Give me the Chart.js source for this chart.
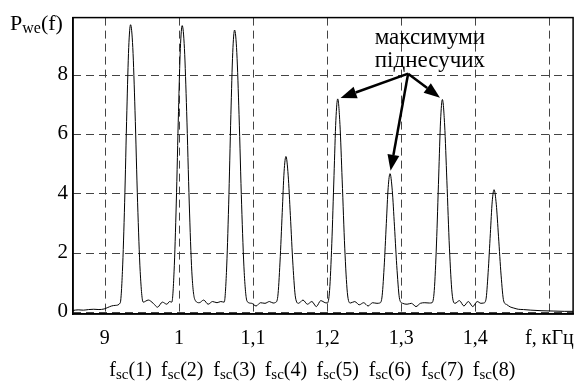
<!DOCTYPE html>
<html>
<head>
<meta charset="utf-8">
<script src="https://cdn.jsdelivr.net/npm/chart.js@4.4.1/dist/chart.umd.min.js"></script>
<style>
  html, body { margin: 0; padding: 0; background: #fff; }
</style>
</head>
<body>
<canvas id="spectrum" width="587" height="381"></canvas>
<script>
// spectrum, f in kHz
const freq = [
  0.857, 0.864, 0.871, 0.878, 0.885, 0.892, 0.899, 0.904, 0.909, 0.914, 0.9207,
  0.9237, 0.9267, 0.9297, 0.9322, 0.9347, 0.9377, 0.9407, 0.9442, 0.9477, 0.9517,
  0.9587, 0.9653, 0.9711, 0.9777, 0.9836, 0.9874, 0.9904,
  0.9934, 0.9964, 0.9994, 1.0019, 1.0044, 1.0074, 1.0104, 1.0139, 1.0174, 1.0214,
  1.0274, 1.0334, 1.0394, 1.0454, 1.0514, 1.0564, 1.0611,
  1.0641, 1.0671, 1.0701, 1.0726, 1.0751, 1.0781, 1.0811, 1.0846, 1.0881, 1.0921,
  1.0981, 1.1041, 1.1101, 1.1161, 1.1221, 1.1271, 1.1304,
  1.1334, 1.1364, 1.1394, 1.1419, 1.1444, 1.1474, 1.1504, 1.1539, 1.1574, 1.1614,
  1.1674, 1.1734, 1.1794, 1.1854, 1.1914, 1.1974, 1.2003,
  1.2033, 1.2063, 1.2093, 1.2118, 1.2143, 1.2173, 1.2203, 1.2238, 1.2273, 1.2313,
  1.2373, 1.2433, 1.2493, 1.2553, 1.2613, 1.2673, 1.2709,
  1.2739, 1.2769, 1.2799, 1.2824, 1.2849, 1.2879, 1.2909, 1.2944, 1.2979, 1.3019,
  1.3079, 1.3139, 1.3199, 1.3259, 1.3319, 1.3379, 1.3416,
  1.3446, 1.3476, 1.3506, 1.3531, 1.3556, 1.3586, 1.3616, 1.3651, 1.3686, 1.3726,
  1.3786, 1.3846, 1.3906, 1.3966, 1.4026, 1.4076, 1.4113,
  1.4143, 1.4173, 1.4203, 1.4228, 1.4253, 1.4283, 1.4313, 1.4348, 1.4383,
  1.4423, 1.447, 1.452, 1.458, 1.465, 1.475, 1.49, 1.505, 1.52, 1.532
]
const power = [
  0.05, 0.07, 0.06, 0.08, 0.09, 0.08, 0.10, 0.15, 0.20, 0.22, 0.30,
  1.36, 3.68, 6.78, 8.91, 9.68, 8.91, 6.78, 3.68, 1.36, 0.33,
  0.40, 0.29, 0.16, 0.33, 0.26, 0.35, 0.33,
  1.35, 3.67, 6.76, 8.88, 9.65, 8.88, 6.76, 3.67, 1.35, 0.42,
  0.31, 0.40, 0.26, 0.35, 0.31, 0.35, 0.33,
  1.33, 3.61, 6.65, 8.74, 9.50, 8.74, 6.65, 3.61, 1.33, 0.35,
  0.29, 0.20, 0.31, 0.29, 0.35, 0.30, 0.32,
  0.52, 1.68, 3.35, 4.72, 5.24, 4.61, 3.25, 1.57, 0.47, 0.29,
  0.40, 0.26, 0.35, 0.18, 0.38, 0.31, 0.30,
  0.72, 2.30, 4.60, 6.46, 7.18, 6.32, 4.45, 2.15, 0.65, 0.30,
  0.35, 0.24, 0.31, 0.20, 0.31, 0.29, 0.30,
  0.47, 1.49, 2.98, 4.19, 4.66, 4.10, 2.89, 1.40, 0.42, 0.29,
  0.26, 0.29, 0.18, 0.29, 0.31, 0.30, 0.31,
  0.72, 2.29, 4.58, 6.44, 7.16, 6.30, 4.44, 2.15, 0.64, 0.29,
  0.38, 0.20, 0.35, 0.18, 0.35, 0.29, 0.30,
  0.41, 1.32, 2.64, 3.71, 4.12, 3.63, 2.55, 1.24, 0.37,
  0.25, 0.17, 0.13, 0.09, 0.08, 0.06, 0.04, 0.03, 0.02, 0.02
]

const xTicks = [0.9, 1.0, 1.1, 1.2, 1.3, 1.4, 1.5]
const xTickLabels = ['9', '1', '1,1', '1,2', '1,3', '1,4', 'f, кГц']
const yTicks = [0, 2, 4, 6, 8]

// subcarrier peaks and their labels f_sc(n)
const subcarrierFreq = [0.9347, 1.0044, 1.0751, 1.1444, 1.2143, 1.2849, 1.3556, 1.4253]
const subcarrierNames = ['1', '2', '3', '4', '5', '6', '7', '8']
const markedPeaks = [4, 5, 6]
const noteLines = ['максимуми', 'піднесучих']

const serif = '"Liberation Serif", "Times New Roman", serif'

function peakValue(f) {
  return power[freq.indexOf(f)]
}

// text with a subscript: main + sub + tail
function drawSub(ctx, main, sub, tail, x, y, size, subSize, align) {
  ctx.font = size + 'px ' + serif
  const w1 = ctx.measureText(main).width
  const w3 = ctx.measureText(tail).width
  ctx.font = subSize + 'px ' + serif
  const w2 = ctx.measureText(sub).width
  let left = align === 'center' ? x - (w1 + w2 + w3) / 2 : x
  ctx.textAlign = 'left'
  ctx.font = size + 'px ' + serif
  ctx.fillText(main, left, y)
  ctx.font = subSize + 'px ' + serif
  ctx.fillText(sub, left + w1, y + 3)
  ctx.font = size + 'px ' + serif
  ctx.fillText(tail, left + w1 + w2, y)
}

function arrow(ctx, x0, y0, x1, y1) {
  const ang = Math.atan2(y1 - y0, x1 - x0)
  const len = 16, half = 6
  const bx = x1 - len * Math.cos(ang), by = y1 - len * Math.sin(ang)
  ctx.beginPath()
  ctx.moveTo(x0, y0)
  ctx.lineTo(bx, by)
  ctx.stroke()
  ctx.beginPath()
  ctx.moveTo(x1, y1)
  ctx.lineTo(bx + half * Math.sin(ang), by - half * Math.cos(ang))
  ctx.lineTo(bx - half * Math.sin(ang), by + half * Math.cos(ang))
  ctx.closePath()
  ctx.fill()
}

// dashed grid from the axes' own ticks
const dashedGrid = {
  id: 'dashedGrid',
  beforeDatasetsDraw(chart) {
    const {ctx, chartArea: a, scales: {x, y}} = chart
    ctx.save()
    ctx.strokeStyle = '#444'
    ctx.lineWidth = 1
    ctx.setLineDash([8, 5])
    x.ticks.forEach(t => {
      const px = Math.round(x.getPixelForValue(t.value)) + 0.5
      ctx.beginPath()
      ctx.moveTo(px, a.top)
      ctx.lineTo(px, a.bottom)
      ctx.stroke()
    })
    y.ticks.forEach(t => {
      const py = Math.round(y.getPixelForValue(t.value)) + 0.5
      ctx.beginPath()
      ctx.moveTo(a.left, py)
      ctx.lineTo(a.right, py)
      ctx.stroke()
    })
    ctx.restore()
  }
}

const overlay = {
  id: 'overlay',
  afterDraw(chart) {
    const {ctx, chartArea: a, scales: {x, y}} = chart
    ctx.save()
    ctx.strokeStyle = '#000'
    ctx.lineWidth = 1.5
    ctx.strokeRect(a.left, a.top, a.right - a.left, a.bottom - a.top)

    ctx.fillStyle = '#000'
    ctx.textBaseline = 'alphabetic'
    drawSub(ctx, 'P', 'we', '(f)', 10, 30, 22, 16, 'left')

    subcarrierFreq.forEach((f, i) => {
      drawSub(ctx, 'f', 'sc', '(' + subcarrierNames[i] + ')', x.getPixelForValue(f), 376, 20, 15, 'center')
    })

    // note with arrows to the subcarrier maxima
    ctx.font = '23px ' + serif
    ctx.textAlign = 'center'
    const nx = x.getPixelForValue(1.3387), ny = y.getPixelForValue(9.03)
    noteLines.forEach((t, i) => ctx.fillText(t, nx, ny + i * 23))

    const ox = x.getPixelForValue(1.3093), oy = y.getPixelForValue(8.03)
    ctx.lineWidth = 2.5
    markedPeaks.forEach(i => {
      const f = subcarrierFreq[i]
      const px = x.getPixelForValue(f), py = y.getPixelForValue(peakValue(f))
      const d = Math.hypot(px - ox, py - oy)
      arrow(ctx, ox, oy, px + (ox - px) * 3 / d, py + (oy - py) * 3 / d)
    })
    ctx.restore()
  }
}

new Chart(document.getElementById('spectrum'), {
  type: 'scatter',
  data: {
    datasets: [{
      data: freq.map((f, i) => ({x: f, y: power[i]})),
      showLine: true,
      borderColor: '#000',
      borderWidth: 1,
      pointRadius: 0,
      cubicInterpolationMode: 'monotone'
    }]
  },
  options: {
    responsive: false,
    animation: false,
    devicePixelRatio: 1,
    layout: {padding: {top: 17, right: 6, left: 0, bottom: 0}},
    plugins: {legend: {display: false}, tooltip: {enabled: false}},
    scales: {
      x: {
        type: 'linear',
        min: 0.857,
        max: 1.532,
        afterBuildTicks: axis => { axis.ticks = xTicks.map(v => ({value: v})) },
        afterFit: axis => { axis.height = 67 },
        ticks: {
          color: '#000',
          font: {family: serif, size: 20},
          padding: 13,
          maxRotation: 0,
          autoSkip: false,
          callback: (v, i) => xTickLabels[i]
        },
        grid: {display: false, drawTicks: false},
        border: {display: true, color: '#000', width: 1.5}
      },
      y: {
        min: -0.07,
        max: 9.92,
        afterBuildTicks: axis => { axis.ticks = yTicks.map(v => ({value: v})) },
        afterFit: axis => { axis.width = 73 },
        ticks: {
          color: '#000',
          font: {family: serif, size: 21},
          padding: 5,
          callback: v => String(v)
        },
        grid: {display: false, drawTicks: false},
        border: {display: true, color: '#000', width: 1.5}
      }
    }
  },
  plugins: [dashedGrid, overlay]
})
</script>
</body>
</html>
